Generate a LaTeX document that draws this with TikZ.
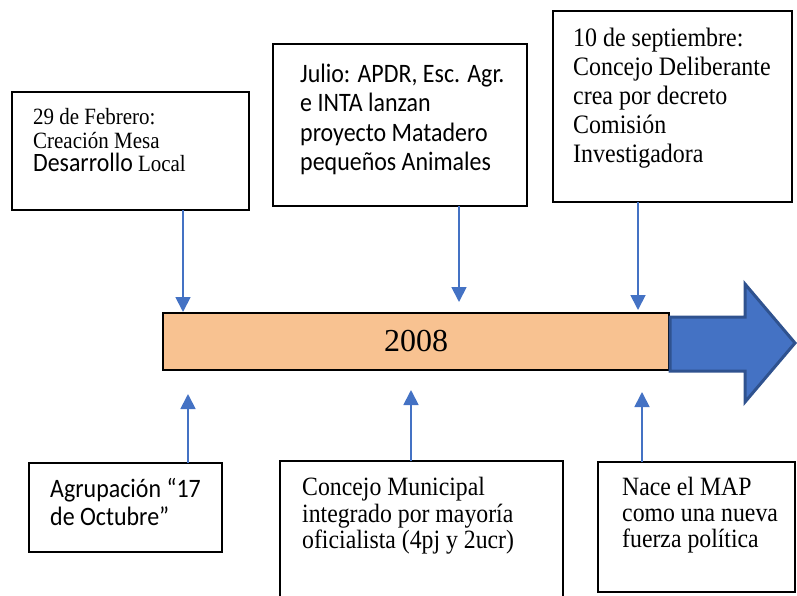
\documentclass[tikz,border=0pt]{standalone}
\usepackage{fontspec}
\setmainfont{Liberation Serif}[FakeStretch=0.9]
\newfontfamily\bodysans{Carlito}[FakeStretch=0.9]
\newfontfamily\yearfont{Liberation Serif}
\usetikzlibrary{positioning,arrows.meta}
\definecolor{barorange}{HTML}{F8C291}
\definecolor{linkblue}{HTML}{4472C4}
\definecolor{edgeblue}{HTML}{2F528F}

\begin{document}
\begin{tikzpicture}[x=1pt,y=-1pt,
	evbox/.style={draw, line width=1.5pt, fill=white, inner sep=0pt, outer sep=0pt, anchor=north west},
	evtext/.style={inner sep=0pt, align=left, anchor=north west},
	link/.style={linkblue, line width=1.8pt, -{Triangle[width=15pt,length=15pt]}}]
	\useasboundingbox (0,0) rectangle (797,595);
	% draw time bar
	\node[draw, line width=1.5pt, fill=barorange, inner sep=0pt, outer sep=0pt, minimum width=506pt, minimum height=57pt, anchor=north west, font=\yearfont\fontsize{32}{38}\selectfont] (year) at (163,313) {2008};
	\draw[edgeblue, line width=3pt, fill=linkblue] (670,317) -- (745,317) -- (745,284) -- (795,343) -- (745,402) -- (745,371) -- (670,371) -- cycle;
	% arrow ends on the bar
	\coordinate (febtip) at (183,312);
	\coordinate (juliotip) at (459,302);
	\coordinate (septtip) at (638,310);
	\coordinate (agruptip) at (188,394);
	\coordinate (concejotip) at (411,390);
	\coordinate (maptip) at (642,392);
	% draw upper boxes
	\node[evbox, minimum width=237pt, minimum height=118pt] (feb) at (12,92) {};
	\node[evtext, font=\fontsize{23.3}{23}\selectfont, below right=16.4pt and 21pt of feb.north west] (febtext) {\strut 29 de Febrero:\\Creación Mesa\\{\bodysans\fontsize{26.5}{23}\selectfont Desarrollo} Local};
	\node[evbox, minimum width=254pt, minimum height=162pt] (julio) at (273,44) {};
	\node[evtext, font=\bodysans\fontsize{26.6}{29.5}\selectfont, below right=17.3pt and 27pt of julio.north west] (juliotext) {\strut Julio: APDR, Esc. Agr.\\e INTA lanzan\\proyecto Matadero\\pequeños Animales};
	\node[evbox, minimum width=239pt, minimum height=191pt] (sept) at (553,11) {};
	\node[evtext, font=\fontsize{26.6}{29}\selectfont, below right=14.7pt and 20pt of sept.north west] (septtext) {\strut 10 de septiembre:\\Concejo Deliberante\\crea por decreto\\Comisión\\Investigadora};
	% draw lower boxes
	\node[evbox, minimum width=193pt, minimum height=89pt] (agrup) at (29,463) {};
	\node[evtext, font=\bodysans\fontsize{26.6}{28}\selectfont, below right=14.4pt and 21pt of agrup.north west] (agruptext) {\strut Agrupación “17\\de Octubre”};
	\node[evbox, minimum width=283pt, minimum height=139pt] (concejo) at (280,461) {};
	\node[evtext, font=\fontsize{26.4}{26}\selectfont, below right=15.8pt and 22pt of concejo.north west] (concejotext) {\strut Concejo Municipal\\integrado por mayoría\\oficialista (4pj y 2ucr)};
	\node[evbox, minimum width=197pt, minimum height=130pt] (map) at (598,462) {};
	\node[evtext, font=\fontsize{26.4}{26}\selectfont, below right=14.8pt and 24pt of map.north west] (maptext) {\strut Nace el MAP\\como una nueva\\fuerza política};
	% draw arrows
	\draw[link] (feb.south -| febtip) -- (febtip);
	\draw[link] (julio.south -| juliotip) -- (juliotip);
	\draw[link] (sept.south -| septtip) -- (septtip);
	\draw[link] (agrup.north -| agruptip) -- (agruptip);
	\draw[link] (concejo.north -| concejotip) -- (concejotip);
	\draw[link] (map.north -| maptip) -- (maptip);
\end{tikzpicture}
\end{document}
